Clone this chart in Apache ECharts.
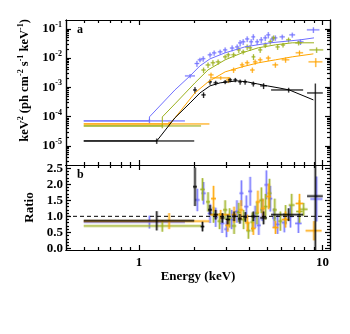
<!DOCTYPE html>
<html>
<head>
<meta charset="utf-8">
<script src="https://cdn.jsdelivr.net/npm/echarts@6/dist/echarts.min.js"></script>
<style>
  html, body { margin: 0; padding: 0; background: #fff; }
  #main { width: 350px; height: 334px; }
</style>
</head>
<body>
<div id="main"></div>
<script>
// axis ranges / ticks
const xMin = 0.4, xMax = 11;
const fluxMin = 2.2e-6, fluxMax = 0.2;
const ratioMin = -0.05, ratioMax = 2.6;
const xMajor = [1, 10];
const xMinor = [0.5, 0.6, 0.7, 0.8, 0.9, 2, 3, 4, 5, 6, 7, 8, 9];
const fluxMajor = [1e-5, 1e-4, 1e-3, 1e-2, 1e-1];
const ratioMajor = [0, 0.5, 1, 1.5, 2, 2.5];

// unfolded spectra: [E, dE, flux, dFlux]
const blueData = [
  [1.14, 0.64, 7.1e-5, 1.2e-5], [1.90, 0.12, 2.45e-3, 4e-4], [2.07, 0.06, 6.5e-3, 1.5e-3],
  [2.15, 0.06, 8.7e-3, 1.5e-3], [2.24, 0.06, 9.5e-3, 2e-3], [2.44, 0.07, 1.29e-2, 2.5e-3],
  [2.57, 0.07, 1.5e-2, 3e-3], [2.77, 0.08, 1.63e-2, 3e-3], [2.95, 0.08, 1.9e-2, 4e-3],
  [3.22, 0.09, 2.2e-2, 5e-3], [3.43, 0.09, 2.4e-2, 5e-3], [3.56, 0.09, 3.3e-2, 8e-3],
  [3.70, 0.10, 3.6e-2, 8e-3], [3.89, 0.10, 4.5e-2, 1e-2], [4.09, 0.10, 3.6e-2, 8e-3],
  [4.20, 0.10, 5.3e-2, 1.2e-2], [4.41, 0.11, 3.6e-2, 8e-3], [4.64, 0.12, 4.2e-2, 1e-2],
  [4.88, 0.12, 4.9e-2, 1.1e-2], [5.07, 0.13, 6.2e-2, 1.5e-2], [5.33, 0.13, 4.5e-2, 1e-2],
  [5.54, 0.14, 4.9e-2, 1e-2], [6.04, 0.2, 5.3e-2, 1e-2], [6.85, 0.25, 6.2e-2, 1.2e-2],
  [7.59, 0.3, 3.6e-2, 8e-3], [8.93, 0.7, 9.2e-2, 2e-2]
];
const oliveData = [
  [1.34, 0.84, 4.77e-5, 8e-6], [2.25, 0.06, 3.9e-3, 8e-4], [2.38, 0.07, 5.8e-3, 1.2e-3],
  [2.53, 0.07, 6.9e-3, 1.5e-3], [2.70, 0.08, 7.4e-3, 1.5e-3], [2.95, 0.08, 1.1e-2, 2e-3],
  [3.07, 0.08, 1.29e-2, 2.5e-3], [3.28, 0.09, 1.29e-2, 2.5e-3], [3.50, 0.09, 1.9e-2, 4e-3],
  [3.70, 0.1, 1.63e-2, 3e-3], [3.89, 0.1, 2.4e-2, 5e-3], [4.04, 0.1, 2.24e-2, 5e-3],
  [4.21, 0.1, 1.1e-2, 2.5e-3], [4.58, 0.12, 1.9e-2, 4e-3], [4.88, 0.12, 2.8e-2, 6e-3],
  [5.2, 0.13, 3.6e-2, 7e-3], [5.42, 0.14, 4.9e-2, 1e-2], [5.7, 0.15, 2.4e-2, 5e-3],
  [6.1, 0.16, 2.8e-2, 5e-3], [6.54, 0.2, 4.2e-2, 8e-3], [7.42, 0.3, 3.3e-2, 6e-3],
  [9.3, 0.8, 1.9e-2, 4e-3]
];
const orangeData = [
  [1.46, 0.96, 5.58e-5, 1e-5], [2.47, 0.08, 2.66e-3, 5e-4], [2.79, 0.35, 2.1e-3, 3e-4],
  [3.07, 0.09, 1.79e-3, 4e-4], [3.28, 0.1, 3.9e-3, 8e-4], [3.65, 0.1, 5.85e-3, 1.2e-3],
  [3.89, 0.11, 6.9e-3, 1.4e-3], [4.15, 0.12, 3.9e-3, 8e-4], [4.3, 0.12, 7.4e-3, 1.5e-3],
  [4.58, 0.13, 8.7e-3, 1.8e-3], [5.07, 0.15, 1.0e-2, 2e-3], [5.54, 0.2, 5.85e-3, 1.2e-3],
  [6.3, 0.3, 8.7e-3, 1.8e-3], [7.5, 0.35, 1.51e-2, 3e-3], [9.2, 0.8, 7.4e-3, 2.5e-3]
];
const blackData = [
  [1.25, 0.75, 1.46e-5, 3e-6], [2.02, 0.05, 8.1e-4, 2e-4], [2.25, 0.06, 5.5e-4, 1.2e-4],
  [2.44, 0.06, 1.53e-3, 3e-4], [2.62, 0.07, 1.42e-3, 2.5e-4], [2.95, 0.07, 1.53e-3, 2.5e-4],
  [3.14, 0.08, 1.79e-3, 3e-4], [3.35, 0.08, 1.79e-3, 3e-4], [3.56, 0.08, 1.53e-3, 3e-4],
  [3.79, 0.09, 1.53e-3, 3e-4], [4.2, 0.1, 1.31e-3, 2.5e-4], [4.78, 0.2, 1.12e-3, 2.5e-4],
  [6.55, 1.3, 8.1e-4, 1.5e-4], [9.15, 0.9, 6.4e-4, 7e-4]
];

// folded models: [E, flux]
const blueModel = [[0.5, 7.1e-5], [1.14, 7.1e-5], [1.14, 9.7e-5], [1.57, 8.1e-4], [1.90, 2.46e-3],
  [2.15, 5.4e-3], [2.44, 9.4e-3], [2.95, 0.0151], [3.79, 0.0242], [5.2, 0.0332], [7.59, 0.042], [9.0, 0.049]];
const oliveModel = [[0.5, 4.77e-5], [1.34, 4.77e-5], [1.34, 9.7e-5], [1.57, 2.7e-4], [2.02, 1.42e-3],
  [2.38, 3.94e-3], [2.95, 8.7e-3], [3.65, 0.0151], [4.47, 0.0224], [5.54, 0.0283], [6.85, 0.0332], [9.0, 0.0332]];
const orangeModel = [[0.5, 5.58e-5], [1.46, 5.58e-5], [1.57, 8.95e-5], [2.02, 6.45e-4], [2.38, 1.53e-3],
  [2.95, 3.37e-3], [3.65, 5.0e-3], [4.47, 6.86e-3], [5.54, 8.68e-3], [6.85, 0.011], [8.93, 0.0139]];
const blackModel = [[0.5, 1.46e-5], [1.25, 1.46e-5], [1.57, 9e-5], [1.90, 2.92e-4], [2.15, 6.4e-4],
  [2.44, 1.12e-3], [2.77, 1.42e-3], [3.43, 1.66e-3], [3.89, 1.53e-3], [4.41, 1.31e-3], [5.0, 1.12e-3],
  [5.8, 9.5e-4], [6.6, 8.1e-4], [8.93, 3.7e-4]];

// data/model ratio: [E, dE, ratio, dRatio]
const blueRatio = [
  [1.14, 0.64, 0.82, 0.2], [2.08, 0.06, 1.51, 0.35], [2.25, 0.06, 1.72, 0.35], [2.44, 0.07, 1.09, 0.3],
  [2.62, 0.07, 0.97, 0.3], [2.84, 0.08, 0.78, 0.3], [3.0, 0.08, 0.6, 0.25], [3.2, 0.09, 0.9, 0.3],
  [3.42, 0.09, 1.15, 0.35], [3.62, 0.09, 1.72, 0.4], [3.85, 0.1, 1.3, 0.35], [4.04, 0.1, 1.78, 0.45],
  [4.3, 0.1, 0.98, 0.35], [4.5, 0.11, 0.72, 0.3], [4.7, 0.12, 1.2, 0.35], [4.95, 0.12, 1.98, 0.45],
  [5.2, 0.13, 1.55, 0.4], [5.45, 0.14, 0.95, 0.3], [5.7, 0.15, 0.75, 0.3], [6.2, 0.2, 0.8, 0.3],
  [6.7, 0.25, 1.0, 0.35], [7.4, 0.3, 0.78, 0.3], [9.3, 0.7, 1.54, 0.7]
];
const oliveRatio = [
  [1.34, 0.84, 0.7, 0.18], [2.22, 0.06, 1.84, 0.35], [2.38, 0.06, 1.45, 0.3], [2.55, 0.07, 1.05, 0.25],
  [2.75, 0.07, 0.85, 0.25], [2.95, 0.08, 1.2, 0.3], [3.12, 0.08, 0.95, 0.3], [3.3, 0.09, 0.7, 0.25],
  [3.5, 0.09, 1.12, 0.3], [3.72, 0.1, 0.9, 0.3], [3.95, 0.1, 0.55, 0.25], [4.15, 0.1, 0.82, 0.3],
  [4.4, 0.11, 1.1, 0.35], [4.65, 0.12, 1.5, 0.4], [4.9, 0.12, 1.3, 0.4], [5.15, 0.13, 1.72, 0.45],
  [5.5, 0.14, 1.2, 0.35], [5.9, 0.15, 0.85, 0.3], [6.3, 0.2, 1.05, 0.3], [6.8, 0.25, 1.35, 0.35],
  [7.5, 0.3, 1.15, 0.35], [7.9, 0.4, 1.22, 0.2]
];
const orangeRatio = [
  [1.46, 0.96, 0.85, 0.25], [2.55, 0.08, 1.55, 0.4], [2.79, 0.35, 1.05, 0.15], [3.05, 0.09, 0.72, 0.2],
  [3.3, 0.1, 1.05, 0.25], [3.6, 0.1, 1.2, 0.3], [3.9, 0.11, 0.8, 0.25], [4.2, 0.12, 0.62, 0.2],
  [4.45, 0.12, 1.45, 0.35], [4.75, 0.13, 1.25, 0.3], [5.1, 0.15, 1.62, 0.4], [5.55, 0.2, 0.65, 0.2],
  [6.3, 0.3, 0.9, 0.25], [7.5, 0.35, 1.4, 0.3], [9.0, 0.9, 0.55, 0.3]
];
const blackRatio = [
  [1.25, 0.75, 0.86, 0.3], [2.02, 0.05, 1.92, 0.6], [2.22, 0.05, 0.68, 0.15], [2.44, 0.06, 1.2, 0.15],
  [2.62, 0.07, 1.05, 0.15], [2.85, 0.07, 0.95, 0.15], [3.05, 0.08, 0.9, 0.15], [3.3, 0.08, 1.0, 0.15],
  [3.55, 0.08, 0.92, 0.15], [3.8, 0.09, 0.98, 0.15], [4.2, 0.1, 1.0, 0.15], [4.78, 0.2, 0.95, 0.2],
  [6.55, 1.3, 1.05, 0.2], [9.15, 0.9, 1.63, 1.8]
];

const colors = { blue: "#7070ff", olive: "#9bb01c", orange: "#ffa500", black: "#000000" };
const font = "Liberation Serif";

// minor ticks between decades / tenths
const fluxMinor = [];
[1e-6, 1e-5, 1e-4, 1e-3, 1e-2].forEach((d) => {
  for (let k = 2; k <= 9; k++) fluxMinor.push(k * d);
});
const ratioMinor = [];
for (let k = 1; k <= 25; k++) if (k % 5) ratioMinor.push(k / 10);

const axisLineStyle = { color: "#000", width: 1.2 };
const labelStyle = { color: "#000", fontFamily: font, fontWeight: "bold", fontSize: 13 };

function xAx(grid, pos, ticks, len, extra) {
  return Object.assign({
    type: "log", gridIndex: grid, position: pos, min: xMin, max: xMax,
    axisLine: { show: true, onZero: false, lineStyle: axisLineStyle },
    axisTick: { show: true, inside: true, length: len, customValues: ticks, lineStyle: axisLineStyle },
    axisLabel: { show: false },
    splitLine: { show: false },
  }, extra || {});
}
function yAx(grid, pos, type, min, max, ticks, len, extra) {
  return Object.assign({
    type: type, gridIndex: grid, position: pos, min: min, max: max,
    axisLine: { show: true, onZero: false, lineStyle: axisLineStyle },
    axisTick: { show: true, inside: true, length: len, customValues: ticks, lineStyle: axisLineStyle },
    axisLabel: { show: false },
    splitLine: { show: false },
  }, extra || {});
}

function errBars(color, floor, thickW, thickA) {
  return function (params, api) {
    const x = api.value(0), dx = api.value(1), y = api.value(2), dy = api.value(3);
    const lo = y - dy > 0 ? y - dy : floor;
    const l = api.coord([x - dx, y]);
    const r = api.coord([x + dx, y]);
    const t = api.coord([x, y + dy]);
    const b = api.coord([x, lo]);
    const seg = (p, q, w, a) => ({
      type: "line",
      shape: { x1: p[0], y1: p[1], x2: q[0], y2: q[1] },
      style: { stroke: color, lineWidth: w, opacity: a },
    });
    return {
      type: "group",
      children: [
        seg(l, r, thickW, thickA), seg(t, b, thickW, thickA),
        seg(l, r, 1, 0.85), seg(t, b, 1, 0.85),
      ],
    };
  };
}

const myChart = echarts.init(document.getElementById("main"));
let option;

const upperSets = [
  ["blue", blueData, blueModel], ["olive", oliveData, oliveModel],
  ["orange", orangeData, orangeModel], ["black", blackData, blackModel],
];
const lowerSets = [["blue", blueRatio], ["olive", oliveRatio], ["orange", orangeRatio], ["black", blackRatio]];

const series = [];
upperSets.forEach(([name, d, m]) => {
  series.push({
    type: "line", xAxisIndex: 0, yAxisIndex: 0, data: m, showSymbol: false, silent: true,
    lineStyle: { color: colors[name], width: 1 }, z: 3,
  });
  series.push({
    type: "custom", xAxisIndex: 0, yAxisIndex: 0, data: d, clip: true, silent: true,
    renderItem: errBars(colors[name], 1e-8, 2, 0.25), encode: { x: 0, y: 2 }, z: 2,
  });
});
lowerSets.forEach(([name, d]) => {
  series.push({
    type: "custom", xAxisIndex: 4, yAxisIndex: 4, data: d, clip: true, silent: true,
    renderItem: errBars(colors[name], -10, 3, 0.35), encode: { x: 0, y: 2 }, z: 2,
  });
});
series.push({
  type: "line", xAxisIndex: 4, yAxisIndex: 4, data: [[xMin, 1], [xMax, 1]], showSymbol: false, silent: true,
  lineStyle: { color: "#000", width: 1, type: [4, 3] }, z: 4,
});

option = {
  animation: false,
  backgroundColor: "#fff",
  grid: [
    { left: 66, right: 20, top: 20, height: 145 },
    { left: 66, right: 20, top: 165, height: 85 },
  ],
  xAxis: [
    xAx(0, "bottom", xMajor, 5),
    xAx(0, "bottom", xMinor, 3),
    xAx(0, "top", xMajor, 5),
    xAx(0, "top", xMinor, 3),
    xAx(1, "bottom", xMajor, 5, {
      axisLabel: { show: true, customValues: xMajor, margin: 6, formatter: (v) => String(v), ...labelStyle },
      name: "Energy (keV)", nameLocation: "middle", nameGap: 20, nameTextStyle: labelStyle,
    }),
    xAx(1, "bottom", xMinor, 3),
    xAx(1, "top", xMajor, 5),
    xAx(1, "top", xMinor, 3),
  ],
  yAxis: [
    yAx(0, "left", "log", fluxMin, fluxMax, fluxMajor, 5, {
      axisLabel: {
        show: true, customValues: fluxMajor, margin: 4,
        formatter: (v) => "{b|10}{s|" + Math.round(Math.log10(v)) + "}",
        rich: {
          b: { fontFamily: font, fontWeight: "bold", fontSize: 13, color: "#000", lineHeight: 16 },
          s: { fontFamily: font, fontWeight: "bold", fontSize: 8, color: "#000", verticalAlign: "top", lineHeight: 8 },
        },
      },
      name: "{b|keV}{s|2}{b| (ph cm}{s|-2}{b| s}{s|-1}{b| keV}{s|-1}{b|)}",
      nameLocation: "middle", nameGap: 27, nameRotate: 90,
      nameTextStyle: {
        padding: [0, 0, 0, 24],
        rich: {
          b: { fontFamily: font, fontWeight: "bold", fontSize: 12.5, color: "#000", lineHeight: 16 },
          s: { fontFamily: font, fontWeight: "bold", fontSize: 8, color: "#000", verticalAlign: "top", lineHeight: 8 },
        },
      },
    }),
    yAx(0, "left", "log", fluxMin, fluxMax, fluxMinor, 3),
    yAx(0, "right", "log", fluxMin, fluxMax, fluxMajor, 5),
    yAx(0, "right", "log", fluxMin, fluxMax, fluxMinor, 3),
    yAx(1, "left", "value", ratioMin, ratioMax, ratioMajor, 5, {
      axisLabel: { show: true, customValues: ratioMajor, margin: 3, formatter: (v) => v.toFixed(1), ...labelStyle },
      name: "Ratio", nameLocation: "middle", nameGap: 27, nameRotate: 90, nameTextStyle: labelStyle,
    }),
    yAx(1, "left", "value", ratioMin, ratioMax, ratioMinor, 3),
    yAx(1, "right", "value", ratioMin, ratioMax, ratioMajor, 5),
    yAx(1, "right", "value", ratioMin, ratioMax, ratioMinor, 3),
  ],
  graphic: [
    { type: "text", left: 77, top: 24, style: { text: "a", fontFamily: font, fontWeight: "bold", fontSize: 12, fill: "#000" } },
    { type: "text", left: 77, top: 169, style: { text: "b", fontFamily: font, fontWeight: "bold", fontSize: 12, fill: "#000" } },
  ],
  series: series,
};
option && myChart.setOption(option);
</script>
</body>
</html>
